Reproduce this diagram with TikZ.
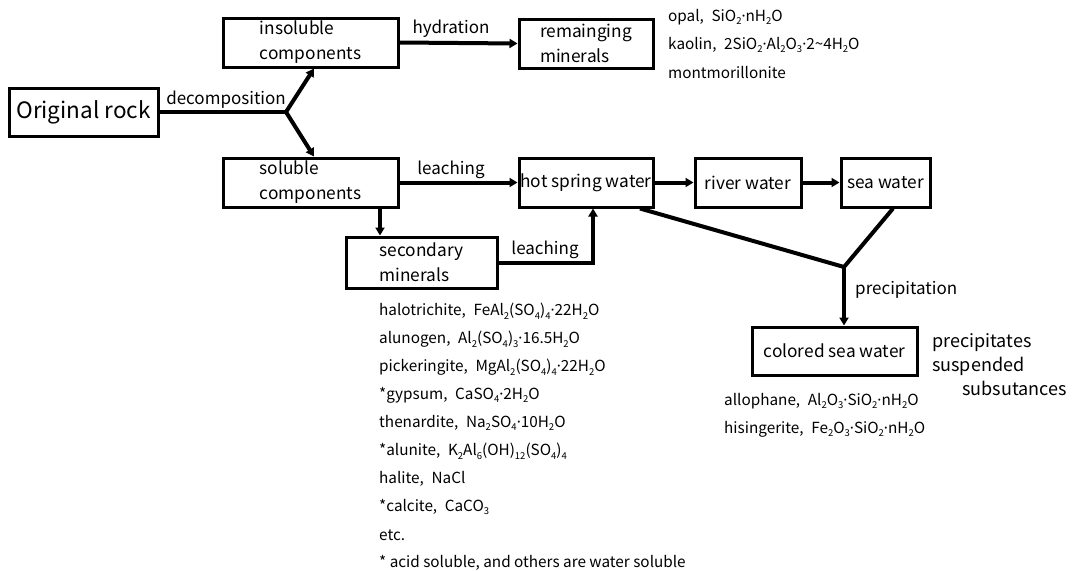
\documentclass[tikz,border=0pt]{standalone}
\usepackage{fontspec}
\setmainfont{Noto Sans CJK JP}
\newfontfamily\dotfont{Noto Sans}
\usetikzlibrary{arrows.meta}
\newcommand\ts[1]{\raisebox{-0.45ex}{\fontsize{9.5}{10}\selectfont #1}}
\newcommand\md{{\dotfont ·}}
\tikzset{
  box/.style={draw, line width=3pt, inner sep=0pt, align=left, font=\fontsize{17.3}{25}\selectfont},
  conn/.style={line width=4pt},
  arr/.style={conn, -{Triangle[length=8pt,width=9pt]}},
  lbl/.style={font=\fontsize{17}{20}\selectfont, inner sep=0pt},
  chem/.style={font=\fontsize{15.3}{18}\selectfont, inner sep=0pt, anchor=west}
}
\begin{document}
\begin{tikzpicture}[x=1pt,y=-1pt]
\useasboundingbox (0,0) rectangle (1073,570);
\node[box, minimum width=149pt, minimum height=48pt, font=\fontsize{22.5}{30}\selectfont] (orig) at (83.5,112) {Original rock};
\node[box, minimum width=175pt, minimum height=49pt] (ins) at (310.5,42.5) {insoluble\\components};
\node[box, minimum width=134pt, minimum height=49pt] (rem) at (586,43.5) {remainging\\minerals};
\node[box, minimum width=175pt, minimum height=49pt] (sol) at (310.5,182.5) {soluble\\components};
\node[box, minimum width=134pt, minimum height=49pt] (hot) at (586,182.5) {hot spring water};
\node[box, minimum width=106pt, minimum height=49pt] (riv) at (748,182.5) {river water};
\node[box, minimum width=89pt, minimum height=49pt] (sea) at (885.5,182.5) {sea water};
\node[box, minimum width=151pt, minimum height=51pt] (sec) at (421.5,262.5) {secondary\\minerals};
\node[box, minimum width=165pt, minimum height=48pt] (col) at (834.5,351) {colored sea water};

\coordinate (J1) at (286,112);
\coordinate (J2) at (844,267);

\draw[conn] (orig.east) -- (J1);
\draw[arr] (J1) -- ([xshift=3.5pt]ins.south);
\draw[arr] (J1) -- ([xshift=3.5pt]sol.north);
\node[lbl, anchor=south] (ldec) at (226,109) {decomposition};

\draw[arr] (ins.east) -- (rem.west);
\node[lbl, anchor=south] (lhyd) at (451,38) {hydration};
\draw[arr] (sol.east) -- (hot.west);
\node[lbl, anchor=south] (lle1) at (451,179) {leaching};
\draw[arr] ([xshift=69.5pt]sol.south) -- ([xshift=-41.5pt]sec.north);
\draw[arr] (sec.east) -| ([xshift=7pt]hot.south);
\node[lbl, anchor=south] (lle2) at (545,259) {leaching};
\draw[arr] (hot.east) -- (riv.west);
\draw[arr] (riv.east) -- (sea.west);
\draw[conn] ([xshift=54pt]hot.south) -- (J2);
\draw[conn] ([xshift=7.5pt]sea.south) -- (J2);
\draw[arr] (J2) -- (J2 |- col.north);
\node[lbl, anchor=west] (lpre) at (855,290) {precipitation};

\node[chem] (t1) at (668,17) {opal,\enspace SiO\ts{2}\md nH\ts{2}O};
\node[chem] (t2) at (668,45) {kaolin,\enspace 2SiO\ts{2}\md Al\ts{2}O\ts{3}\md 2\char"007E 4H\ts{2}O};
\node[chem] (t3) at (668,73) {montmorillonite};

\node[chem] (m1) at (379,311) {halotrichite,\enspace FeAl\ts{2}(SO\ts{4})\ts{4}\md 22H\ts{2}O};
\node[chem] (m2) at (379,339) {alunogen,\enspace Al\ts{2}(SO\ts{4})\ts{3}\md 16.5H\ts{2}O};
\node[chem] (m3) at (379,367) {pickeringite,\enspace MgAl\ts{2}(SO\ts{4})\ts{4}\md 22H\ts{2}O};
\node[chem] (m4) at (379,395) {*gypsum,\enspace CaSO\ts{4}\md 2H\ts{2}O};
\node[chem] (m5) at (379,423) {thenardite,\enspace Na\ts{2}SO\ts{4}\md 10H\ts{2}O};
\node[chem] (m6) at (379,451) {*alunite,\enspace K\ts{2}Al\ts{6}(OH)\ts{12}(SO\ts{4})\ts{4}};
\node[chem] (m7) at (379,479) {halite,\enspace NaCl};
\node[chem] (m8) at (379,507) {*calcite,\enspace CaCO\ts{3}};
\node[chem] (m9) at (379,535) {etc.};
\node[chem] (m10) at (379,563) {* acid soluble, and others are water soluble};

\node[chem] (a1) at (724,401) {allophane,\enspace Al\ts{2}O\ts{3}\md SiO\ts{2}\md nH\ts{2}O};
\node[chem] (a2) at (724,429) {hisingerite,\enspace Fe\ts{2}O\ts{3}\md SiO\ts{2}\md nH\ts{2}O};

\node[lbl, anchor=west, font=\fontsize{18}{20}\selectfont] (p1) at (932,343) {precipitates};
\node[lbl, anchor=west, font=\fontsize{18}{20}\selectfont] (p2) at (932,366) {suspended};
\node[lbl, anchor=west, font=\fontsize{18}{20}\selectfont] (p3) at (962,388) {subsutances};
\end{tikzpicture}
\end{document}
